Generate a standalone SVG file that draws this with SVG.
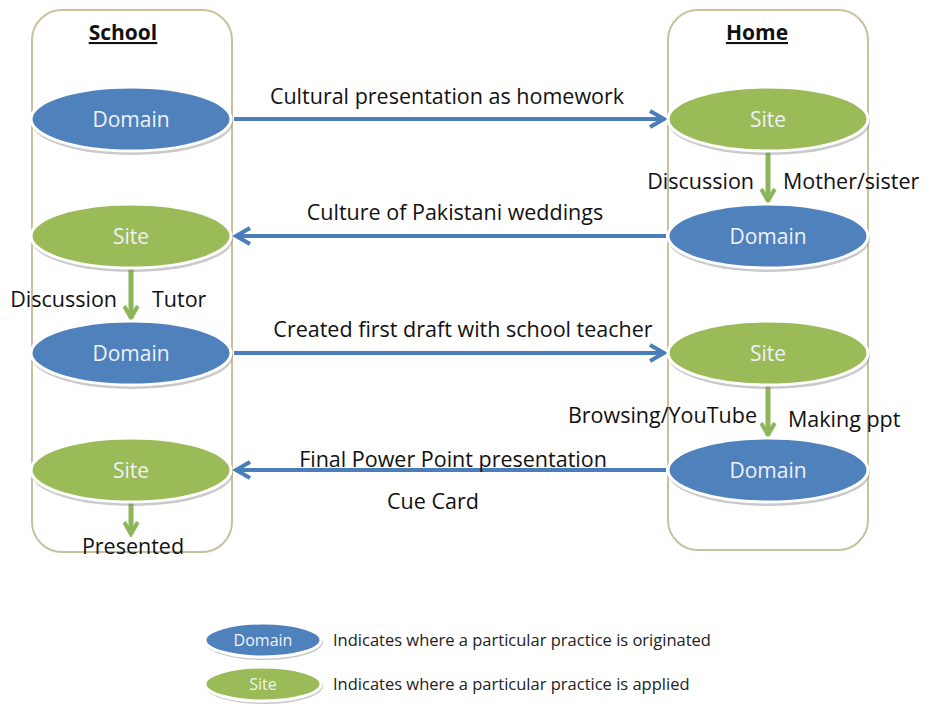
<svg xmlns="http://www.w3.org/2000/svg" width="929" height="704" viewBox="0 0 929 704">
<defs>
<style>
.box{fill:none;stroke:#c9c19d;stroke-width:2}
.dom{fill:#4f81bd;stroke:#ffffff;stroke-width:3}
.site{fill:#9bbb59;stroke:#ffffff;stroke-width:3}
.sh{fill:#8a8a8a;opacity:0.45}
.nt{font-family:"Open Sans","Liberation Sans",sans-serif;font-size:21px;fill:#eef2f8;text-anchor:middle}
.ns{font-family:"Open Sans","Liberation Sans",sans-serif;font-size:16px;fill:#eef2f8;text-anchor:middle}
.lt{font-family:"Open Sans","Liberation Sans",sans-serif;font-size:21.5px;fill:#111111}
.hd{font-family:"Open Sans","Liberation Sans",sans-serif;font-size:21px;font-weight:bold;fill:#111111;text-anchor:middle;text-decoration:underline}
.bl{stroke:#4a7ebb;stroke-width:4;fill:none}
.gr{stroke:#8db55a;stroke-width:5;fill:none}
.lg{font-family:"Open Sans","Liberation Sans",sans-serif;font-size:16.5px;fill:#222222}
</style>
<marker id="ab" viewBox="0 0 10 10" refX="8" refY="5" markerWidth="5" markerHeight="5" markerUnits="strokeWidth" orient="auto">
<path d="M1,1 L8,5 L1,9" fill="none" stroke="#4a7ebb" stroke-width="2"/>
</marker>
<marker id="ag" viewBox="0 0 10 10" refX="8" refY="5" markerWidth="3.4" markerHeight="3.4" markerUnits="strokeWidth" orient="auto">
<path d="M1,1 L8,5 L1,9" fill="none" stroke="#8db55a" stroke-width="2.4"/>
</marker>
</defs>
<rect width="929" height="704" fill="#ffffff"/>
<g id="school">
<rect class="box" x="32" y="10" width="200" height="542" rx="30"/>
<text class="hd" x="123" y="40">School</text>
</g>
<g id="home">
<rect class="box" x="668" y="10" width="200" height="540" rx="30"/>
<text class="hd" x="757" y="40">Home</text>
</g>
<g id="connectors">
<line class="bl" x1="234" y1="119" x2="664" y2="119" marker-end="url(#ab)"/>
<line class="bl" x1="666" y1="236" x2="236" y2="236" marker-end="url(#ab)"/>
<line class="bl" x1="234" y1="353" x2="664" y2="353" marker-end="url(#ab)"/>
<line class="bl" x1="666" y1="470" x2="236" y2="470" marker-end="url(#ab)"/>
<line class="gr" x1="768" y1="152" x2="768" y2="201" marker-end="url(#ag)"/>
<line class="gr" x1="131" y1="269" x2="131" y2="318" marker-end="url(#ag)"/>
<line class="gr" x1="768" y1="386" x2="768" y2="435" marker-end="url(#ag)"/>
<line class="gr" x1="131" y1="503" x2="131" y2="534" marker-end="url(#ag)"/>
<text class="lt" x="447" y="104" text-anchor="middle">Cultural presentation as homework</text>
<text class="lt" x="455" y="220" text-anchor="middle">Culture of Pakistani weddings</text>
<text class="lt" x="463" y="337" text-anchor="middle">Created first draft with school teacher</text>
<text class="lt" x="453" y="467" text-anchor="middle">Final Power Point presentation</text>
<text class="lt" x="433" y="509" text-anchor="middle">Cue Card</text>
<text class="lt" x="754" y="189" text-anchor="end">Discussion</text>
<text class="lt" x="783" y="189">Mother/sister</text>
<text class="lt" x="117" y="307" text-anchor="end">Discussion</text>
<text class="lt" x="152" y="307">Tutor</text>
<text class="lt" x="757" y="423" text-anchor="end">Browsing/YouTube</text>
<text class="lt" x="788" y="427">Making ppt</text>
<text class="lt" x="133" y="554" text-anchor="middle">Presented</text>
</g>
<g id="school-domain1">
<ellipse class="sh" cx="132" cy="122" rx="101" ry="33"/>
<ellipse class="dom" cx="131" cy="119" rx="100" ry="32"/>
<text class="nt" x="131" y="127">Domain</text>
</g>
<g id="school-site1">
<ellipse class="sh" cx="132" cy="239" rx="101" ry="33"/>
<ellipse class="site" cx="131" cy="236" rx="100" ry="32"/>
<text class="nt" x="131" y="244">Site</text>
</g>
<g id="school-domain2">
<ellipse class="sh" cx="132" cy="356" rx="101" ry="33"/>
<ellipse class="dom" cx="131" cy="353" rx="100" ry="32"/>
<text class="nt" x="131" y="361">Domain</text>
</g>
<g id="school-site2">
<ellipse class="sh" cx="132" cy="473" rx="101" ry="33"/>
<ellipse class="site" cx="131" cy="470" rx="100" ry="32"/>
<text class="nt" x="131" y="478">Site</text>
</g>
<g id="home-site1">
<ellipse class="sh" cx="769" cy="122" rx="101" ry="33"/>
<ellipse class="site" cx="768" cy="119" rx="100" ry="32"/>
<text class="nt" x="768" y="127">Site</text>
</g>
<g id="home-domain1">
<ellipse class="sh" cx="769" cy="239" rx="101" ry="33"/>
<ellipse class="dom" cx="768" cy="236" rx="100" ry="32"/>
<text class="nt" x="768" y="244">Domain</text>
</g>
<g id="home-site2">
<ellipse class="sh" cx="769" cy="356" rx="101" ry="33"/>
<ellipse class="site" cx="768" cy="353" rx="100" ry="32"/>
<text class="nt" x="768" y="361">Site</text>
</g>
<g id="home-domain2">
<ellipse class="sh" cx="769" cy="473" rx="101" ry="33"/>
<ellipse class="dom" cx="768" cy="470" rx="100" ry="32"/>
<text class="nt" x="768" y="478">Domain</text>
</g>
<g id="legend-domain">
<ellipse class="sh" cx="264" cy="642" rx="59" ry="18"/>
<ellipse class="dom" cx="263" cy="640" rx="58" ry="17" stroke-width="2"/>
<text class="ns" x="263" y="646">Domain</text>
<text class="lg" x="333" y="646">Indicates where a particular practice is originated</text>
</g>
<g id="legend-site">
<ellipse class="sh" cx="264" cy="686" rx="59" ry="18"/>
<ellipse class="site" cx="263" cy="684" rx="58" ry="17" stroke-width="2"/>
<text class="ns" x="263" y="690">Site</text>
<text class="lg" x="333" y="690">Indicates where a particular practice is applied</text>
</g>
</svg>
